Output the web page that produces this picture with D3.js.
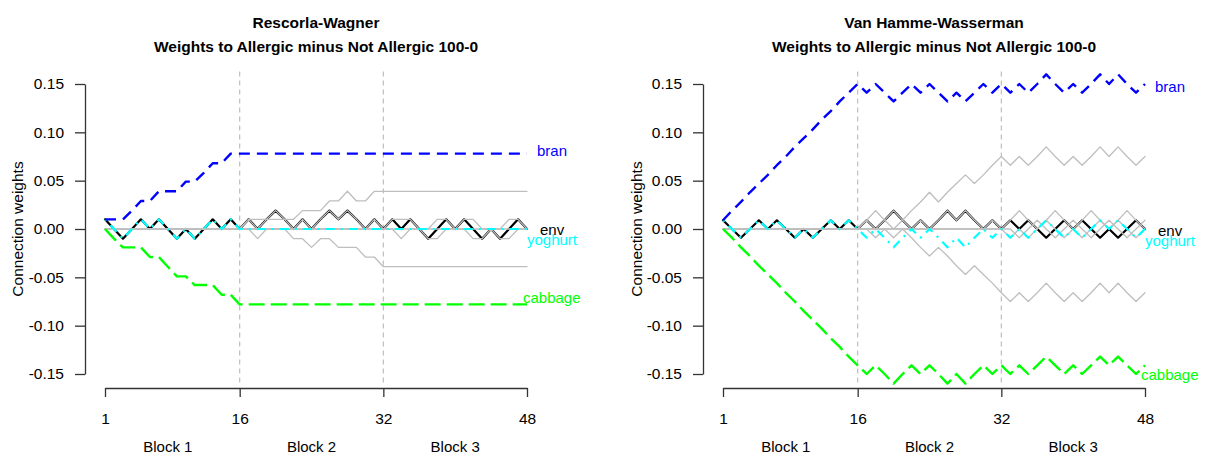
<!DOCTYPE html>
<html>
<head>
<meta charset="utf-8">
<script src="https://cdn.jsdelivr.net/npm/d3@7"></script>
<style>
  body { margin: 0; background: #ffffff; }
  svg { display: block; }
  text { font-family: "Liberation Sans", Arial, Helvetica, sans-serif; }
</style>
</head>
<body>
<svg id="chart" width="1208" height="459"></svg>
<script>
// ---- data -------------------------------------------------------------
const trials = d3.range(1, 49);
const trialTicks = [1, 16, 32, 48];
const weightTicks = [0.15, 0.10, 0.05, 0.00, -0.05, -0.10, -0.15];
const blockNames = ["Block 1", "Block 2", "Block 3"];
const blockCentres = [8, 24, 40];
const blockBoundaries = [16, 32];
const panelTitles = ["Rescorla-Wagner", "Van Hamme-Wasserman"];
const subTitle = "Weights to Allergic minus Not Allergic 100-0";
const yAxisTitle = "Connection weights";

// Rescorla-Wagner: Allergic minus Not Allergic weight per cue after each trial
const rwEnv = [
  0.010, 0, -0.010, 0, 0.010, 0, 0.010, 0, -0.010, 0, -0.010, 0, 0.010, 0, 0.010, 0,
  0.010, 0, 0.010, 0.019, 0.010, 0, 0.010, 0, 0.010, 0.019, 0.010, 0.019, 0.010, 0, 0.010, 0,
  0.010, 0, 0.010, 0, -0.010, 0, 0.010, 0, 0.010, 0, -0.010, 0, -0.010, 0, 0.010, 0];
const rwBran = [
  0.010, 0.010, 0.010, 0.019, 0.029, 0.029, 0.039, 0.039, 0.039, 0.049, 0.049, 0.058, 0.068, 0.068, 0.078, 0.078,
  0.078, 0.078, 0.078, 0.078, 0.078, 0.078, 0.078, 0.078, 0.078, 0.078, 0.078, 0.078, 0.078, 0.078, 0.078, 0.078,
  0.078, 0.078, 0.078, 0.078, 0.078, 0.078, 0.078, 0.078, 0.078, 0.078, 0.078, 0.078, 0.078, 0.078, 0.078, 0.078];
const rwCabbage = [
  0, -0.010, -0.019, -0.019, -0.019, -0.029, -0.029, -0.039, -0.049, -0.049, -0.058, -0.058, -0.058, -0.068, -0.068, -0.078,
  -0.078, -0.078, -0.078, -0.078, -0.078, -0.078, -0.078, -0.078, -0.078, -0.078, -0.078, -0.078, -0.078, -0.078, -0.078, -0.078,
  -0.078, -0.078, -0.078, -0.078, -0.078, -0.078, -0.078, -0.078, -0.078, -0.078, -0.078, -0.078, -0.078, -0.078, -0.078, -0.078];
const rwYoghurt = [
  0.010, 0, -0.010, 0, 0.010, 0, 0.010, 0, -0.010, 0, -0.010, 0, 0.010, 0, 0.010, 0,
  0, 0, 0, 0, 0, 0, 0, 0, 0, 0, 0, 0, 0, 0, 0, 0,
  0, 0, 0, 0, 0, 0, 0, 0, 0, 0, 0, 0, 0, 0, 0, 0];
// remaining food cues (unlabelled, grey)
const rwCueA = [
  0, 0, 0, 0, 0, 0, 0, 0, 0, 0, 0, 0, 0, 0, 0, 0,
  0.010, 0.010, 0.010, 0.010, 0.010, 0.010, 0.019, 0.019, 0.019, 0.029, 0.029, 0.039, 0.029, 0.029, 0.039, 0.039,
  0.039, 0.039, 0.039, 0.039, 0.039, 0.039, 0.039, 0.039, 0.039, 0.039, 0.039, 0.039, 0.039, 0.039, 0.039, 0.039];
const rwCueB = [
  0, 0, 0, 0, 0, 0, 0, 0, 0, 0, 0, 0, 0, 0, 0, 0,
  0, -0.010, 0, 0, 0, -0.010, -0.010, -0.019, -0.010, -0.010, -0.019, -0.019, -0.019, -0.029, -0.029, -0.039,
  -0.039, -0.039, -0.039, -0.039, -0.039, -0.039, -0.039, -0.039, -0.039, -0.039, -0.039, -0.039, -0.039, -0.039, -0.039, -0.039];
const rwCueC = [
  0, 0, 0, 0, 0, 0, 0, 0, 0, 0, 0, 0, 0, 0, 0, 0,
  0.010, 0, 0.010, 0.019, 0.010, 0, 0.010, 0, 0.010, 0.019, 0.010, 0.019, 0.010, 0, 0.010, 0,
  0, 0, 0, 0, 0, 0, 0, 0, 0, 0, 0, 0, 0, 0, 0, 0];
const rwCueD = [
  0, 0, 0, 0, 0, 0, 0, 0, 0, 0, 0, 0, 0, 0, 0, 0,
  0, 0, 0, 0, 0, 0, 0, 0, 0, 0, 0, 0, 0, 0, 0, 0,
  0.010, 0.010, 0.010, 0, 0, 0.010, 0.010, 0, 0.010, 0.010, 0, 0, 0, 0.010, 0.010, 0];
const rwCueE = [
  0, 0, 0, 0, 0, 0, 0, 0, 0, 0, 0, 0, 0, 0, 0, 0,
  0, 0, 0, 0, 0, 0, 0, 0, 0, 0, 0, 0, 0, 0, 0, 0,
  0, -0.010, 0, 0, -0.010, -0.010, 0, 0, 0, -0.010, -0.010, 0, -0.010, -0.010, 0, 0];

// Van Hamme-Wasserman: same design, absent cues also updated
const vhwEnv = [
  0.009, 0, -0.009, 0, 0.009, 0, 0.009, 0, -0.009, 0, -0.009, 0, 0.009, 0, 0.009, 0,
  0.009, 0, 0.009, 0.019, 0.009, 0, 0.009, 0, 0.009, 0.019, 0.009, 0.019, 0.009, 0, 0.009, 0,
  0.009, 0, 0.009, 0, -0.009, 0, 0.009, 0, 0.009, 0, -0.009, 0, -0.009, 0, 0.009, 0];
const vhwBran = [
  0.009, 0.019, 0.028, 0.038, 0.047, 0.056, 0.066, 0.075, 0.085, 0.094, 0.103, 0.113, 0.122, 0.132, 0.141, 0.150,
  0.141, 0.150, 0.141, 0.132, 0.141, 0.150, 0.141, 0.150, 0.141, 0.132, 0.141, 0.132, 0.141, 0.150, 0.141, 0.150,
  0.141, 0.150, 0.141, 0.150, 0.160, 0.150, 0.141, 0.150, 0.141, 0.150, 0.160, 0.150, 0.160, 0.150, 0.141, 0.150];
const vhwCabbage = [
  0, -0.009, -0.019, -0.028, -0.038, -0.047, -0.056, -0.066, -0.075, -0.085, -0.094, -0.103, -0.113, -0.122, -0.132, -0.141,
  -0.150, -0.141, -0.150, -0.160, -0.150, -0.141, -0.150, -0.141, -0.150, -0.160, -0.150, -0.160, -0.150, -0.141, -0.150, -0.141,
  -0.150, -0.141, -0.150, -0.141, -0.132, -0.141, -0.150, -0.141, -0.150, -0.141, -0.132, -0.141, -0.132, -0.141, -0.150, -0.141];
const vhwYoghurt = [
  0.009, 0, -0.009, 0, 0.009, 0, 0.009, 0, -0.009, 0, -0.009, 0, 0.009, 0, 0.009, 0,
  -0.009, 0, -0.009, -0.019, -0.009, 0, -0.009, 0, -0.009, -0.019, -0.009, -0.019, -0.009, 0, -0.009, 0,
  -0.009, 0, -0.009, 0, 0.009, 0, -0.009, 0, -0.009, 0, 0.009, 0, 0.009, 0, -0.009, 0];
const vhwCueA = [
  0, 0, 0, 0, 0, 0, 0, 0, 0, 0, 0, 0, 0, 0, 0, 0,
  0.009, 0.019, 0.009, 0, 0.009, 0.019, 0.028, 0.038, 0.028, 0.038, 0.047, 0.056, 0.047, 0.056, 0.066, 0.075,
  0.066, 0.075, 0.066, 0.075, 0.085, 0.075, 0.066, 0.075, 0.066, 0.075, 0.085, 0.075, 0.085, 0.075, 0.066, 0.075];
const vhwCueB = [
  0, 0, 0, 0, 0, 0, 0, 0, 0, 0, 0, 0, 0, 0, 0, 0,
  0, -0.009, 0, -0.009, 0, -0.009, -0.019, -0.028, -0.019, -0.028, -0.038, -0.047, -0.038, -0.047, -0.056, -0.066,
  -0.075, -0.066, -0.075, -0.066, -0.056, -0.066, -0.075, -0.066, -0.075, -0.066, -0.056, -0.066, -0.056, -0.066, -0.075, -0.066];
const vhwCueC = [
  0, 0, 0, 0, 0, 0, 0, 0, 0, 0, 0, 0, 0, 0, 0, 0,
  0.009, 0, 0.009, 0.019, 0.009, 0, 0.009, 0, 0.009, 0.019, 0.009, 0.019, 0.009, 0, 0.009, 0,
  -0.009, 0, -0.009, 0, 0.009, 0, -0.009, 0, -0.009, 0, 0.009, 0, 0.009, 0, -0.009, 0];
const vhwCueD = [
  0, 0, 0, 0, 0, 0, 0, 0, 0, 0, 0, 0, 0, 0, 0, 0,
  0, 0, 0, 0, 0, 0, 0, 0, 0, 0, 0, 0, 0, 0, 0, 0,
  0.009, 0.019, 0.009, 0, 0.009, 0.019, 0.009, 0, 0.009, 0.019, 0.009, 0, 0.009, 0.019, 0.009, 0];
const vhwCueE = [
  0, 0, 0, 0, 0, 0, 0, 0, 0, 0, 0, 0, 0, 0, 0, 0,
  0, 0, 0, 0, 0, 0, 0, 0, 0, 0, 0, 0, 0, 0, 0, 0,
  0, -0.009, 0, 0.009, 0, -0.009, 0, 0.009, 0, -0.009, 0, 0.009, 0, -0.009, 0, 0.009];

// ---- styles -----------------------------------------------------------
const GREY = "#bebebe";
const styles = {
  cue:     { stroke: GREY,      width: 1.3, dash: null },
  env:     { stroke: "#000000", width: 2.2, dash: null },
  yoghurt: { stroke: "#00ffff", width: 2.2, dash: "2,6,9,6" },
  bran:    { stroke: "#0000ff", width: 2.4, dash: "11,7" },
  cabbage: { stroke: "#00ff00", width: 2.4, dash: "16,6" }
};
// label offsets (px) from the series' last point
const labelStyle = {
  bran:    { colour: "#0000ff", dx: 10, dy: [-3, 2] },
  env:     { colour: "#000000", dx: 13, dy: [0, 1] },
  yoghurt: { colour: "#00ffff", dx: 0,  dy: [10, 11] },
  cabbage: { colour: "#00ff00", dx: -4, dy: [-7, 9] }
};

const panels = [
  { title: panelTitles[0], axisX: 85, x1: 105, x48: 527, yLabelX: 17,
    cues: [rwCueA, rwCueB, rwCueC, rwCueD, rwCueE],
    env: rwEnv, yoghurt: rwYoghurt, bran: rwBran, cabbage: rwCabbage },
  { title: panelTitles[1], axisX: 703, x1: 723, x48: 1145, yLabelX: 636,
    cues: [vhwCueA, vhwCueB, vhwCueC, vhwCueD, vhwCueE],
    env: vhwEnv, yoghurt: vhwYoghurt, bran: vhwBran, cabbage: vhwCabbage }
];

// ---- drawing ----------------------------------------------------------
const svg = d3.select("#chart");
const y = d3.scaleLinear().domain([-0.15, 0.15]).range([374, 84]);
const plotTop = y(0.163), plotBottom = y(-0.163);
const xAxisY = 388;

panels.forEach((p, i) => {
  const x = d3.scaleLinear().domain([1, 48]).range([p.x1, p.x48]);
  const g = svg.append("g");
  const line = d3.line().x((d, k) => x(trials[k])).y(d => y(d));
  const plotLeft = p.axisX, plotRight = p.axisX + 462;
  const centre = (plotLeft + plotRight) / 2;

  // titles
  g.append("text").attr("x", centre).attr("y", 28).attr("text-anchor", "middle")
    .attr("font-size", "15.5px").attr("font-weight", "bold").text(p.title);
  g.append("text").attr("x", centre).attr("y", 52).attr("text-anchor", "middle")
    .attr("font-size", "15.5px").attr("font-weight", "bold").text(subTitle);

  // block boundaries
  g.selectAll("line.block").data(blockBoundaries).join("line")
    .attr("x1", d => x(d)).attr("x2", d => x(d))
    .attr("y1", plotTop).attr("y2", plotBottom)
    .attr("stroke", GREY).attr("stroke-width", 1.2).attr("stroke-dasharray", "5,4");

  const drawSeries = (values, st) => {
    g.append("path").datum(values).attr("d", line)
      .attr("fill", "none").attr("stroke", st.stroke).attr("stroke-width", st.width)
      .attr("stroke-linejoin", "round").attr("stroke-linecap", st.dash ? "butt" : "round")
      .attr("stroke-dasharray", st.dash);
  };
  drawSeries(p.env, styles.env);
  p.cues.forEach(c => drawSeries(c, styles.cue));
  drawSeries(p.yoghurt, styles.yoghurt);
  drawSeries(p.bran, styles.bran);
  drawSeries(p.cabbage, styles.cabbage);

  // series labels
  const named = [["bran", p.bran], ["env", p.env], ["yoghurt", p.yoghurt], ["cabbage", p.cabbage]];
  named.forEach(([name, vals]) => {
    const ls = labelStyle[name];
    g.append("text").attr("x", x(48) + ls.dx).attr("y", y(vals[vals.length - 1]) + ls.dy[i])
      .attr("dominant-baseline", "central").attr("font-size", "15px")
      .attr("fill", ls.colour).text(name);
  });

  // axes
  const yAxis = d3.axisLeft(y).tickValues(weightTicks).tickFormat(d => d.toFixed(2))
    .tickSize(10).tickSizeOuter(0).tickPadding(11);
  const ya = g.append("g").attr("transform", `translate(${p.axisX},0)`).call(yAxis);
  const xAxis = d3.axisBottom(x).tickValues(trialTicks).tickFormat(d => String(d))
    .tickSize(9).tickSizeOuter(0).tickPadding(16);
  const xa = g.append("g").attr("transform", `translate(0,${xAxisY})`).call(xAxis);
  [ya, xa].forEach(a => {
    a.select(".domain").attr("stroke", "#333").attr("stroke-width", 1.3);
    a.selectAll(".tick line").attr("stroke", "#333").attr("stroke-width", 1.3);
    a.selectAll(".tick text").attr("font-size", "15.5px").attr("fill", "#000")
      .attr("font-family", "'Liberation Sans', Arial, sans-serif");
  });

  // block names
  g.selectAll("text.block").data(blockNames).join("text")
    .attr("x", (d, k) => x(blockCentres[k])).attr("y", 451.5)
    .attr("text-anchor", "middle").attr("font-size", "15px").text(d => d);

  // y axis title
  g.append("text").attr("transform", `translate(${p.yLabelX},229) rotate(-90)`)
    .attr("text-anchor", "middle").attr("dominant-baseline", "central")
    .attr("font-size", "15.5px").text(yAxisTitle);
});
</script>
</body>
</html>
